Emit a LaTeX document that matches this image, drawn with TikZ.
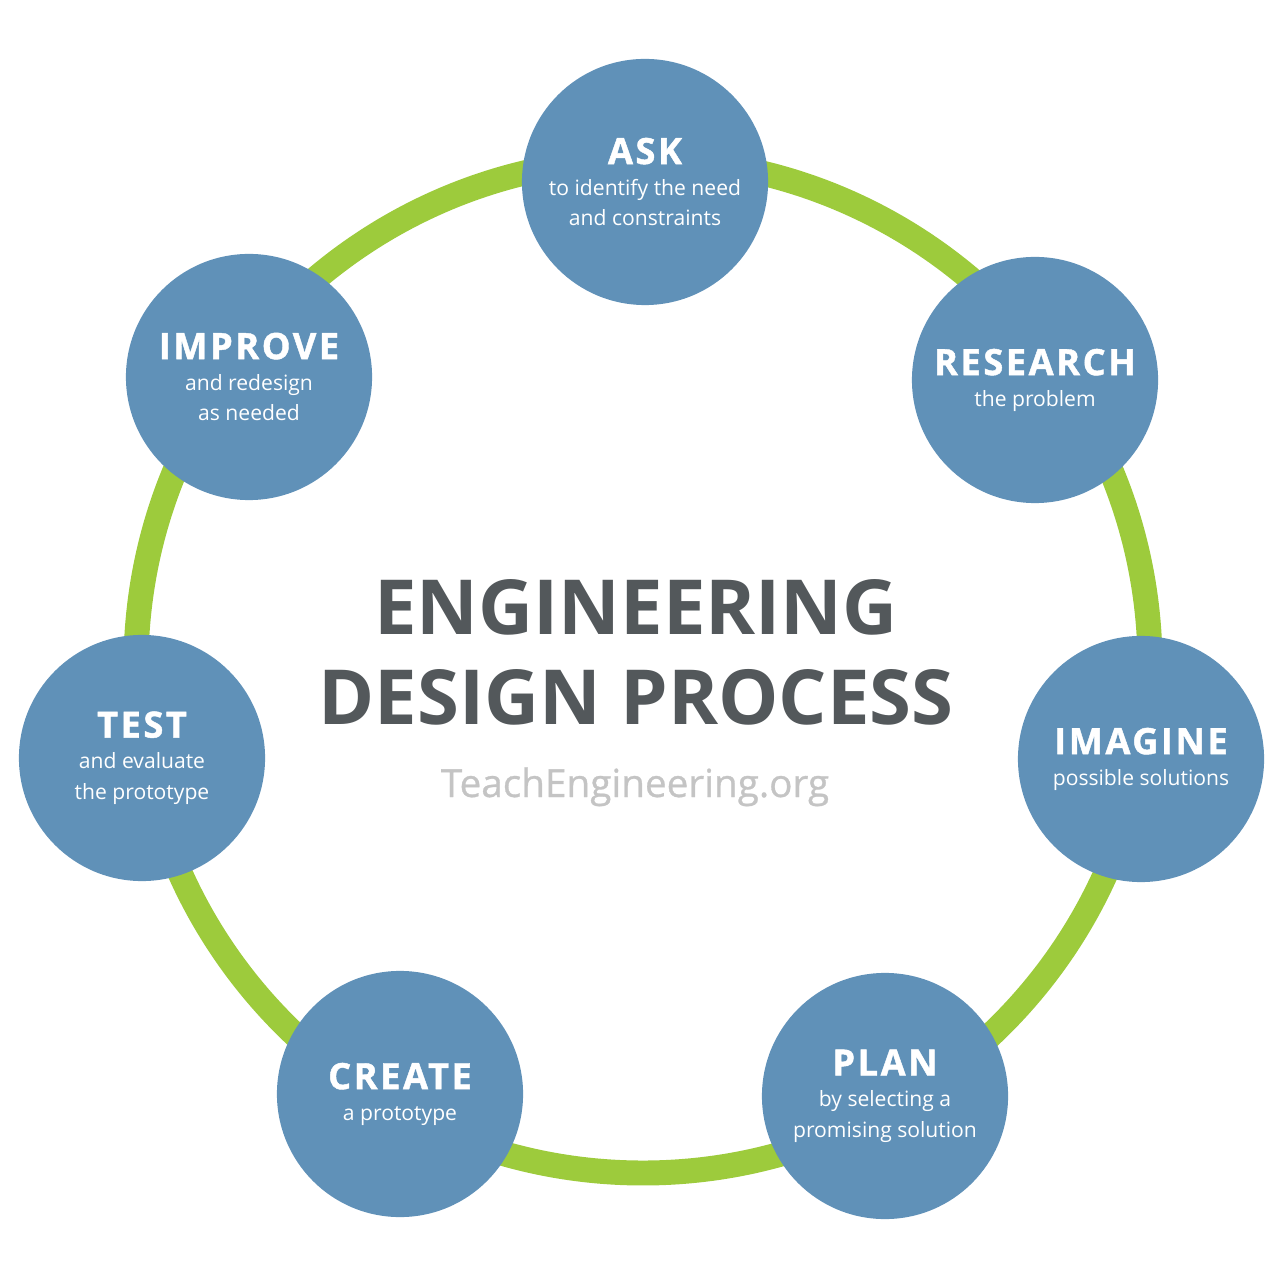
\documentclass[tikz,border=0pt]{standalone}
\usepackage{fontspec}
\setmainfont{Open Sans}
\newfontfamily\headfont[LetterSpace=7,BoldFeatures={FakeBold=1.2}]{Open Sans}
\newfontfamily\urlfont[FakeBold=0.8]{Open Sans}
\definecolor{ringgreen}{HTML}{9DCB3C}
\definecolor{phaseblue}{HTML}{6091B8}
\definecolor{titlegray}{HTML}{53585B}
\definecolor{urlgray}{HTML}{C4C4C4}
\tikzset{
  phase/.style={circle, fill=phaseblue, text=white, minimum size=2.46cm,
    inner sep=0pt, align=center, font=\fontsize{6}{8.8}\selectfont},
  ring/.style={draw=ringgreen, line width=7.1pt},
  title/.style={text=titlegray, inner sep=0pt, anchor=base,
    font=\fontsize{21.6}{26}\selectfont\bfseries},
  url/.style={text=urlgray, inner sep=0pt, anchor=base,
    font=\urlfont\fontsize{11}{13}\selectfont},
}
\newcommand{\phasename}[1]{{\headfont\bfseries\fontsize{10.3}{8.8}\selectfont #1}}
\begin{document}
\begin{tikzpicture}[x=0.01cm,y=-0.01cm]
      \useasboundingbox (0,0) rectangle (1280,1280);
      % the cycle
      \draw[ring] (643,666) circle[radius=507];
      \node[phase] (ask) at (645,182) {\phasename{ASK}\\to identify the need\\and constraints};
      \node[phase] (research) at (1035,380) {\phasename{RESEARCH}\\the problem};
      \node[phase] (imagine) at (1141,759) {\phasename{IMAGINE}\\possible solutions};
      \node[phase] (plan) at (885,1096) {\phasename{PLAN}\\by selecting a\\promising solution};
      \node[phase] (create) at (400,1094) {\phasename{CREATE}\\a prototype};
      \node[phase] (test) at (142,758) {\phasename{TEST}\\and evaluate\\the prototype};
      \node[phase] (improve) at (249,377) {\phasename{IMPROVE}\\and redesign\\as needed};
      % title in the middle
      \node[title] (title1) at (636,635) {ENGINEERING};
      \node[title] (title2) at (636,725) {DESIGN PROCESS};
      \node[url] (url) at (635,797) {TeachEngineering.org};
    \end{tikzpicture}
\end{document}
